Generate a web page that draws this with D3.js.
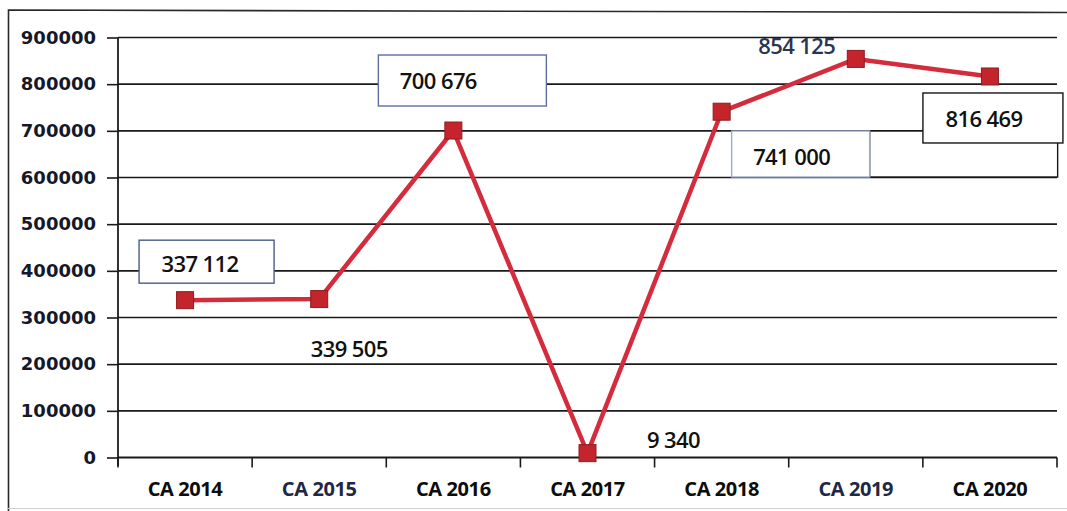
<!DOCTYPE html>
<html>
<head>
<meta charset="utf-8">
<script src="https://cdn.jsdelivr.net/npm/d3@7"></script>
<style>
  html, body { margin: 0; padding: 0; background: #fff; }
  svg { display: block; }
</style>
</head>
<body>
<svg id="chart" width="1067" height="511"></svg>
<script>
// Annual figures, one point per year
const categories = ["CA 2014", "CA 2015", "CA 2016", "CA 2017", "CA 2018", "CA 2019", "CA 2020"];
const values = [337112, 339505, 700676, 9340, 741000, 854125, 816469];
const yTicks = [0, 100000, 200000, 300000, 400000, 500000, 600000, 700000, 800000, 900000];

// Placement of each value label relative to its point (pixels)
const labelLayout = [
  { tx: 15,  ty: -36,   box: { x: -46, y: -60,   w: 135, h: 43 }, stroke: "#4a5b85" },
  { tx: 30,  ty: 50 },
  { tx: -15, ty: -49.5, box: { x: -75, y: -75.5, w: 168, h: 51 }, stroke: "#5d6f9c" },
  { tx: 86,  ty: -13 },
  { tx: 70,  ty: 45.3,  box: { x: 10,  y: 19.3,  w: 138, h: 46 }, stroke: "#9aaad0",
    extra: { x: 148, y: 19.3, w: 188, h: 46 } },
  { tx: -59, ty: -13,   color: "#2b3552" },
  { tx: -6,  ty: 42.5,  box: { x: -67, y: 16.5,  w: 140, h: 50 }, stroke: "#151515" }
];
const navyLabels = ["CA 2015", "CA 2019"];

const svg = d3.select("#chart");

// Outer frame (left, top, bottom edges)
svg.append("path")
  .attr("d", "M8.5,511 L8.5,10 L1067,12.5")
  .attr("fill", "none").attr("stroke", "#2a2a2a").attr("stroke-width", 1.6);
svg.append("line")
  .attr("x1", 8).attr("x2", 1067).attr("y1", 508.5).attr("y2", 508.5)
  .attr("stroke", "#cfcfcf").attr("stroke-width", 1);

const x = d3.scaleBand().domain(categories).range([118, 1057]).padding(0);
const y = d3.scaleLinear().domain([0, 900000]).range([457.5, 37.5]);

const fmt = d3.formatLocale({ decimal: ",", thousands: " ", grouping: [3], currency: ["", ""] }).format(",d");

// Horizontal gridlines
svg.append("g")
  .selectAll("line")
  .data(yTicks.filter(d => d > 0))
  .join("line")
  .attr("x1", 118).attr("x2", 1057)
  .attr("y1", d => y(d)).attr("y2", d => y(d))
  .attr("stroke", "#1a1a1a").attr("stroke-width", 1.7);

// Y axis
const yAxis = svg.append("g")
  .attr("transform", "translate(118,0)")
  .call(d3.axisLeft(y).tickValues(yTicks).tickFormat(d3.format("d")).tickSize(11).tickPadding(11));
yAxis.select(".domain").attr("stroke", "#1a1a1a").attr("stroke-width", 1.8)
  .attr("d", "M0,466V37.5");
yAxis.selectAll(".tick line").attr("stroke", "#1a1a1a").attr("stroke-width", 1.6);
yAxis.selectAll(".tick text")
  .attr("fill", "#14182a")
  .style("font-family", "'DejaVu Sans', sans-serif")
  .style("font-weight", "bold")
  .style("font-size", "18px");

// X axis with ticks at category boundaries
const boundaries = [118].concat(categories.map(c => x(c) + x.bandwidth()));
const xAxis = svg.append("g");
xAxis.append("line")
  .attr("x1", 118).attr("x2", 1057)
  .attr("y1", y(0)).attr("y2", y(0))
  .attr("stroke", "#1a1a1a").attr("stroke-width", 1.8);
xAxis.selectAll("line.tick")
  .data(boundaries)
  .join("line").attr("class", "tick")
  .attr("x1", d => d).attr("x2", d => d)
  .attr("y1", y(0)).attr("y2", y(0) + 10)
  .attr("stroke", "#1a1a1a").attr("stroke-width", 1.6);
xAxis.selectAll("text")
  .data(categories)
  .join("text")
  .attr("x", d => x(d) + x.bandwidth() / 2)
  .attr("y", 489)
  .attr("dy", "0.35em")
  .attr("text-anchor", "middle")
  .attr("fill", d => navyLabels.includes(d) ? "#1f2747" : "#0c0c0c")
  .style("font-family", "'Open Sans', sans-serif")
  .style("font-weight", "bold")
  .style("font-size", "20px")
  .style("letter-spacing", "-0.4px")
  .text(d => d);

// Series line and square markers
const pts = categories.map((c, i) => ({ c, v: values[i], px: x(c) + x.bandwidth() / 2, py: y(values[i]) }));
svg.append("path")
  .datum(pts)
  .attr("fill", "none")
  .attr("stroke", "#d52c3d")
  .attr("stroke-width", 4.5)
  .attr("stroke-linejoin", "round")
  .attr("d", d3.line().x(d => d.px).y(d => d.py));
svg.append("g")
  .selectAll("rect")
  .data(pts)
  .join("rect")
  .attr("x", d => d.px - 8.5).attr("y", d => d.py - 8.5)
  .attr("width", 17).attr("height", 17)
  .attr("fill", "#c4242b")
  .attr("stroke", "#8e1d20").attr("stroke-width", 1);

// Value labels
const labels = svg.append("g");
pts.forEach((p, i) => {
  const L = labelLayout[i];
  if (L.extra) {
    labels.append("rect")
      .attr("x", p.px + L.extra.x).attr("y", p.py + L.extra.y)
      .attr("width", L.extra.w).attr("height", L.extra.h)
      .attr("fill", "#fff").attr("stroke", "#151515").attr("stroke-width", 1.4);
  }
  if (L.box) {
    labels.append("rect")
      .attr("x", p.px + L.box.x).attr("y", p.py + L.box.y)
      .attr("width", L.box.w).attr("height", L.box.h)
      .attr("fill", "#fff").attr("stroke", L.stroke).attr("stroke-width", 1.4);
  }
  labels.append("text")
    .attr("x", p.px + L.tx).attr("y", p.py + L.ty)
    .attr("dy", "0.36em")
    .attr("text-anchor", "middle")
    .attr("fill", L.color || "#111")
    .style("font-family", "'Open Sans', sans-serif")
    .style("font-weight", 600)
    .style("font-size", "22px")
    .style("letter-spacing", "-0.6px")
    .text(fmt(p.v));
});
</script>
</body>
</html>
